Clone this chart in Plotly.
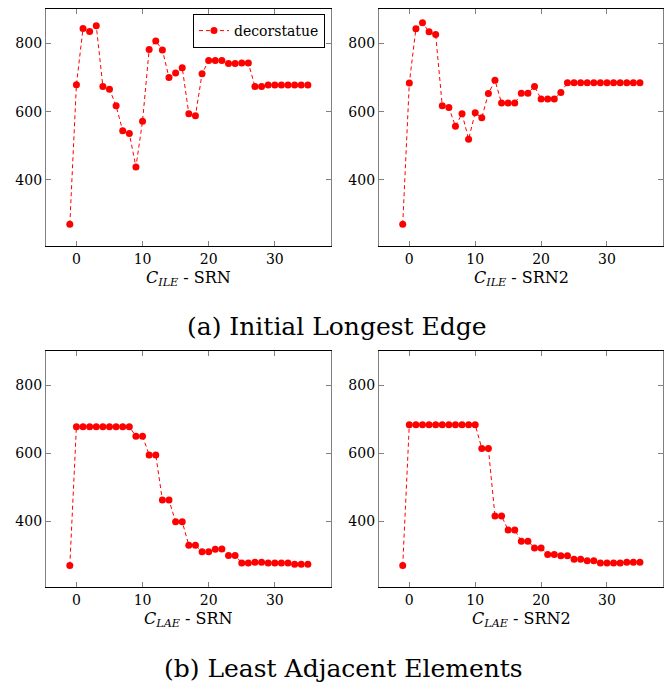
import plotly.graph_objects as go

x_vals = list(range(-1, 36))

ile_srn = [270, 679, 844, 835, 852, 674, 666, 617, 544, 536, 438, 572, 782, 807, 781,
           700, 713, 729, 594, 588, 711, 750, 750, 750, 741, 741, 743, 743,
           674, 674, 678, 678, 678, 678, 678, 678, 678]
ile_srn2 = [270, 684, 843, 861, 834, 826, 617, 612, 557, 594, 519, 597, 582, 653, 692,
            625, 625, 625, 654, 654, 674, 637, 637, 637, 656, 685,
            685, 685, 685, 685, 685, 685, 685, 685, 685, 685, 685]
lae_srn = [269, 678, 678, 678, 678, 678, 678, 678, 678, 678, 650, 650, 595, 595,
           462, 462, 398, 398, 329, 329, 310, 310, 317, 318, 299, 299,
           277, 277, 279, 279, 277, 277, 277, 277, 273, 273, 273]
lae_srn2 = [269, 684, 684, 684, 684, 684, 684, 684, 684, 684, 684, 684, 614, 614,
            415, 415, 374, 374, 341, 341, 321, 321, 302, 302, 298, 298,
            288, 288, 283, 283, 277, 277, 277, 277, 279, 279, 279]

x_ticks = [0, 10, 20, 30]
y_ticks = [400, 600, 800]
series_name = "decorstatue"
x_titles = ["<i>C</i><sub><i>ILE</i></sub> - SRN", "<i>C</i><sub><i>ILE</i></sub> - SRN2",
            "<i>C</i><sub><i>LAE</i></sub> - SRN", "<i>C</i><sub><i>LAE</i></sub> - SRN2"]
captions = ["(a) Initial Longest Edge", "(b) Least Adjacent Elements"]

W, H = 669, 690
FONT = "DejaVu Serif"

# panel pixel boxes: (left, right, top, bottom)
boxes = [(46, 331, 9, 246), (379, 663, 9, 246), (46, 331, 351, 587), (379, 663, 351, 587)]
data = [ile_srn, ile_srn2, lae_srn, lae_srn2]

fig = go.Figure()
layout = dict(
    width=W, height=H, margin=dict(l=0, r=0, t=0, b=0),
    paper_bgcolor="white", plot_bgcolor="white",
    font=dict(family=FONT, size=14, color="black"),
    showlegend=True,
)
annotations = []
for i, (ys, box) in enumerate(zip(data, boxes)):
    n = "" if i == 0 else str(i + 1)
    l, r, t, b = box
    fig.add_trace(go.Scatter(
        x=x_vals, y=ys, mode="lines+markers", name=series_name,
        showlegend=(i == 0),
        line=dict(color="red", width=1, dash="4px,3px"),
        marker=dict(color="red", size=7),
        xaxis="x" + n, yaxis="y" + n,
    ))
    layout["xaxis" + n] = dict(
        domain=[l / W, r / W], range=[-4.6, 38.5], anchor="y" + n,
        tickvals=x_ticks, ticks="inside", ticklen=5, tickcolor="gray",
        showline=True, linecolor="black", linewidth=1, mirror="ticks",
        showgrid=False, zeroline=False, automargin=False,
        tickfont=dict(family=FONT, size=14),
    )
    layout["yaxis" + n] = dict(
        domain=[1 - b / H, 1 - t / H], range=[206, 901], anchor="x" + n,
        tickvals=y_ticks, ticks="inside", ticklen=5, tickcolor="gray",
        showline=True, linecolor="gray", linewidth=1.3, mirror="ticks",
        showgrid=False, zeroline=False, automargin=False,
        tickfont=dict(family=FONT, size=14),
    )
    annotations.append(dict(
        text=x_titles[i], x=(l + r) / 2 / W, y=1 - (b + 32) / H,
        xref="paper", yref="paper", xanchor="center", yanchor="middle",
        showarrow=False, font=dict(family=FONT, size=16),
    ))

annotations.append(dict(text=captions[0], x=337 / W, y=1 - 327 / H, xref="paper", yref="paper",
                        xanchor="center", yanchor="middle", showarrow=False,
                        font=dict(family=FONT, size=25)))
annotations.append(dict(text=captions[1], x=343 / W, y=1 - 668 / H, xref="paper", yref="paper",
                        xanchor="center", yanchor="middle", showarrow=False,
                        font=dict(family=FONT, size=25)))
layout["annotations"] = annotations
layout["legend"] = dict(
    x=325 / W, y=1 - 14 / H, xanchor="right", yanchor="top",
    bordercolor="black", borderwidth=1, bgcolor="white",
    font=dict(family=FONT, size=14), tracegroupgap=0,
)
fig.update_layout(**layout)
fig.write_html("out.html")
